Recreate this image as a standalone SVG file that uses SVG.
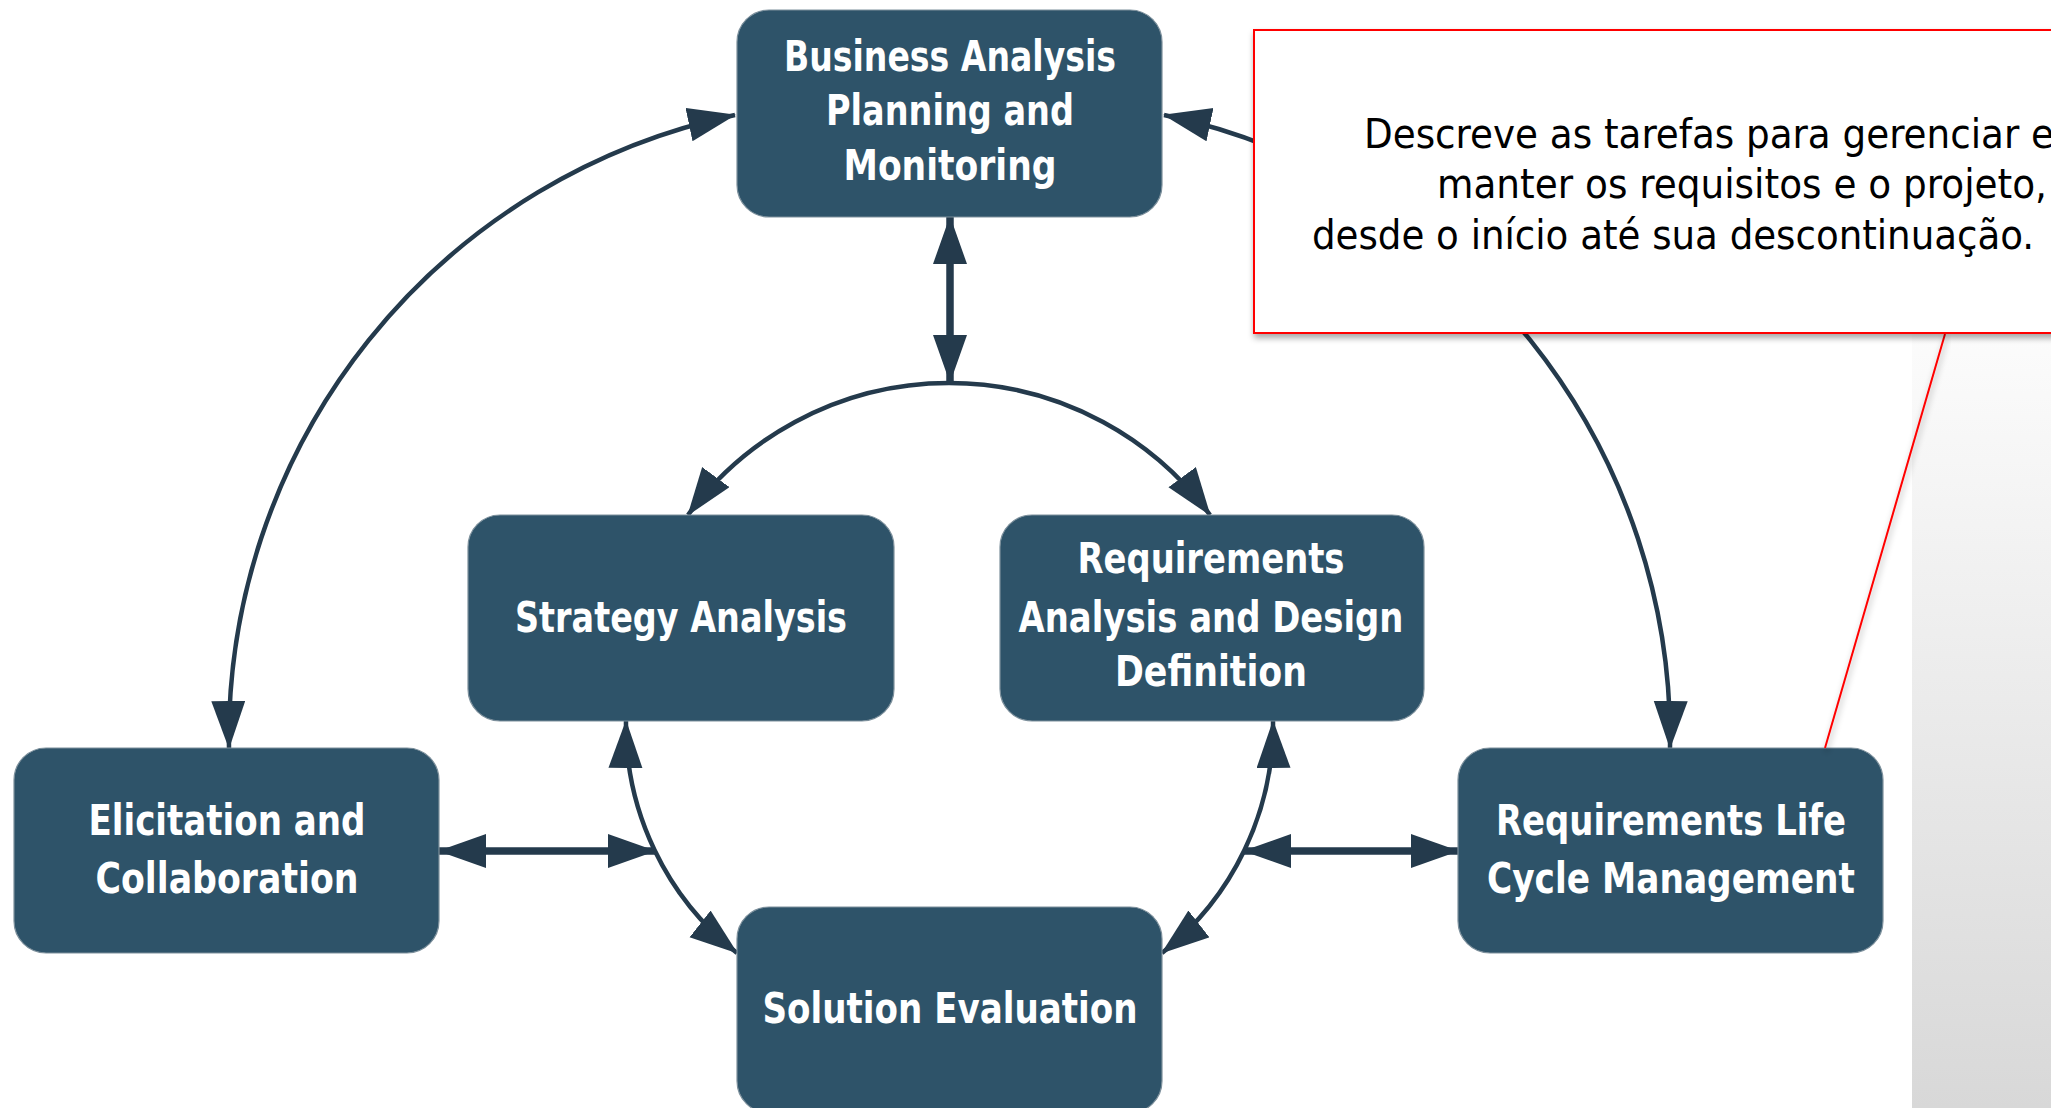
<svg xmlns="http://www.w3.org/2000/svg" width="2051" height="1108" viewBox="0 0 2051 1108">
  <defs>
    <style>
      .node rect { fill: #2e5369; stroke: #7d909c; stroke-width: 1.2; }
      .node text { font-family: "DejaVu Sans Condensed", "Liberation Sans", sans-serif; font-weight: bold; font-size: 42px; fill: #ffffff; text-anchor: middle; }
      .conn path { fill: none; stroke: #243a4c; stroke-width: 4.5; }
      .conn path.thick { stroke-width: 7.5; }
      .callout text { font-family: "DejaVu Sans Condensed", "DejaVu Sans", sans-serif; font-size: 40px; fill: #000000; }
    </style>
    <marker id="arr" markerUnits="userSpaceOnUse" markerWidth="50" markerHeight="36" refX="47" refY="17" orient="auto-start-reverse">
      <path d="M0,0 L48,17 L0,34 Z" fill="#243a4c"/>
    </marker>
    <linearGradient id="panel" x1="0" y1="0" x2="0" y2="1">
      <stop offset="0" stop-color="#fcfcfc"/>
      <stop offset="1" stop-color="#d8d8d8"/>
    </linearGradient>
    <filter id="shadow" x="-5%" y="-10%" width="110%" height="130%">
      <feDropShadow dx="1" dy="4" stdDeviation="3" flood-color="#000" flood-opacity="0.35"/>
    </filter>
  </defs>

  <rect x="0" y="0" width="2051" height="1108" fill="#ffffff"/>
  <rect x="1912" y="330" width="139" height="778" fill="url(#panel)"/>

  <g id="connectors" class="conn">
    <path d="M735,115 A637,637 0 0 0 229,748" marker-start="url(#arr)" marker-end="url(#arr)"/>
    <path d="M1164,115 A637,637 0 0 1 1670,748" marker-start="url(#arr)" marker-end="url(#arr)"/>
    <path d="M688,515 A324,324 0 0 1 1210,515" marker-start="url(#arr)" marker-end="url(#arr)"/>
    <path class="thick" d="M950,217 L950,382" marker-start="url(#arr)" marker-end="url(#arr)"/>
    <path d="M626,721 A291,291 0 0 0 737,953" marker-start="url(#arr)" marker-end="url(#arr)"/>
    <path d="M1273,721 A291,291 0 0 1 1162,953" marker-start="url(#arr)" marker-end="url(#arr)"/>
    <path class="thick" d="M439,851 L655,851" marker-start="url(#arr)" marker-end="url(#arr)"/>
    <path class="thick" d="M1244,851 L1458,851" marker-start="url(#arr)" marker-end="url(#arr)"/>
  </g>

  <g id="node-bapm" class="node">
    <rect x="737" y="10" width="425" height="207" rx="32"/>
    <text x="950" y="71" textLength="332" lengthAdjust="spacingAndGlyphs">Business Analysis</text>
    <text x="950" y="125" textLength="248" lengthAdjust="spacingAndGlyphs">Planning and</text>
    <text x="950" y="180" textLength="213" lengthAdjust="spacingAndGlyphs">Monitoring</text>
  </g>

  <g id="node-strategy" class="node">
    <rect x="468" y="515" width="426" height="206" rx="32"/>
    <text x="681" y="632" textLength="332" lengthAdjust="spacingAndGlyphs">Strategy Analysis</text>
  </g>

  <g id="node-radd" class="node">
    <rect x="1000" y="515" width="424" height="206" rx="32"/>
    <text x="1211" y="573" textLength="267" lengthAdjust="spacingAndGlyphs">Requirements</text>
    <text x="1211" y="632" textLength="385" lengthAdjust="spacingAndGlyphs">Analysis and Design</text>
    <text x="1211" y="686" textLength="192" lengthAdjust="spacingAndGlyphs">Definition</text>
  </g>

  <g id="node-elicitation" class="node">
    <rect x="14" y="748" width="425" height="205" rx="32"/>
    <text x="227" y="835" textLength="277" lengthAdjust="spacingAndGlyphs">Elicitation and</text>
    <text x="227" y="893" textLength="263" lengthAdjust="spacingAndGlyphs">Collaboration</text>
  </g>

  <g id="node-solution" class="node">
    <rect x="737" y="907" width="425" height="206" rx="32"/>
    <text x="950" y="1023" textLength="375" lengthAdjust="spacingAndGlyphs">Solution Evaluation</text>
  </g>

  <g id="node-rlcm" class="node">
    <rect x="1458" y="748" width="425" height="205" rx="32"/>
    <text x="1671" y="835" textLength="350" lengthAdjust="spacingAndGlyphs">Requirements Life</text>
    <text x="1671" y="893" textLength="368" lengthAdjust="spacingAndGlyphs">Cycle Management</text>
  </g>

  <g id="callout" class="callout">
    <line x1="1945" y1="334" x2="1825" y2="748" stroke="#ff0000" stroke-width="2" filter="url(#shadow)"/>
    <rect x="1254" y="30" width="820" height="303" fill="#ffffff" stroke="#ff0000" stroke-width="2" filter="url(#shadow)"/>
    <text x="1364" y="148" textLength="690" lengthAdjust="spacingAndGlyphs">Descreve as tarefas para gerenciar e</text>
    <text x="1437" y="198" textLength="610" lengthAdjust="spacingAndGlyphs">manter os requisitos e o projeto,</text>
    <text x="1312" y="249" textLength="722" lengthAdjust="spacingAndGlyphs">desde o início até sua descontinuação.</text>
  </g>
</svg>
